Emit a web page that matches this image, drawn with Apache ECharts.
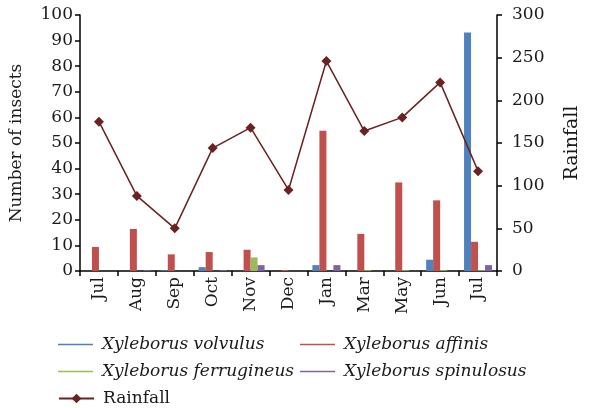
<!DOCTYPE html>
<html><head><meta charset="utf-8">
<script src="https://cdn.jsdelivr.net/npm/echarts@6/dist/echarts.min.js"></script>
<style>html,body{margin:0;padding:0;background:#fff}#c{width:590px;height:408px}</style>
</head><body><div id="c"></div>
<script>
const categories = ['Jul','Aug','Sep','Oct','Nov','Dec','Jan','Mar','May','Jun','Jul'];
const volvulus    = [0, 0, 0.3, 1.5, 0, 0, 2.3, 0, 0, 4.4, 93.2];
const affinis     = [9.4, 16.4, 6.5, 7.4, 8.3, 0.4, 54.8, 14.5, 34.6, 27.6, 11.4];
const ferrugineus = [0, 0, 0, 0, 5.3, 0, 0, 0.3, 0.3, 0.3, 0.3];
const spinulosus  = [0, 0.3, 0, 0.3, 2.3, 0, 2.3, 0, 0, 0, 2.3];
const rainfall    = [175, 88, 50, 144, 168, 95, 246, 164, 180, 221, 117];
const leftTicks = {min: 0, max: 100, interval: 10};
const rightTicks = {min: 0, max: 300, interval: 50};

const FONT = 'DejaVu Serif';
const TXT = '#1a1a1a';
const colors = {v: '#4F81BD', a: '#C0504D', f: '#9BBB59', s: '#8064A2', r: '#6A2121'};
const names = ['Xyleborus volvulus', 'Xyleborus affinis', 'Xyleborus ferrugineus', 'Xyleborus spinulosus', 'Rainfall'];

function legendItem(name, left, top, italic, isLine) {
  return {
    data: [name], left: left, top: top, orient: 'horizontal', padding: 0,
    itemWidth: 35, itemHeight: isLine ? 12 : 1.5,
    icon: isLine ? undefined : 'rect',
    selectedMode: false,
    textStyle: {fontFamily: FONT, fontSize: 17, color: TXT, fontStyle: italic ? 'italic' : 'normal', padding: [0, 0, 0, 4]}
  };
}

const axisLine = {show: true, lineStyle: {color: '#000', width: 1.5}};
const chart = echarts.init(document.getElementById('c'));
chart.setOption({
  animation: false,
  grid: {left: 79, right: 82, top: 15, bottom: 137, containLabel: false},
  legend: [
    legendItem(names[0], 58, 336, true, false),
    legendItem(names[1], 300, 336, true, false),
    legendItem(names[2], 58, 363, true, false),
    legendItem(names[3], 300, 363, true, false),
    legendItem(names[4], 58, 390, false, true)
  ],
  xAxis: {
    type: 'category', data: categories,
    axisLine: axisLine,
    axisTick: {show: true, length: 5, lineStyle: {color: '#000', width: 1.5}},
    axisLabel: {rotate: 90, margin: 6, fontFamily: FONT, fontSize: 17, color: TXT}
  },
  yAxis: [
    {type: 'value', min: leftTicks.min, max: leftTicks.max, interval: leftTicks.interval,
     name: 'Number of insects', nameLocation: 'middle', nameGap: 55, nameRotate: 90,
     nameTextStyle: {fontFamily: FONT, fontSize: 17, color: TXT},
     axisLine: axisLine, axisTick: {show: true, length: 5, lineStyle: {color: '#000', width: 1.5}},
     splitLine: {show: false},
     axisLabel: {margin: 7, fontFamily: FONT, fontSize: 17, color: TXT}},
    {type: 'value', position: 'right', min: rightTicks.min, max: rightTicks.max, interval: rightTicks.interval,
     name: 'Rainfall', nameLocation: 'middle', nameGap: 66, nameRotate: 90,
     nameTextStyle: {fontFamily: FONT, fontSize: 19, color: TXT},
     axisLine: axisLine, axisTick: {show: true, length: 5, lineStyle: {color: '#000', width: 1.5}},
     splitLine: {show: false},
     axisLabel: {margin: 15, fontFamily: FONT, fontSize: 17, color: TXT}}
  ],
  series: [
    {name: names[0], type: 'bar', data: volvulus, barWidth: 7, barGap: '0%', itemStyle: {color: colors.v}},
    {name: names[1], type: 'bar', data: affinis, barWidth: 7, barGap: '0%', itemStyle: {color: colors.a}},
    {name: names[2], type: 'bar', data: ferrugineus, barWidth: 7, barGap: '0%', itemStyle: {color: colors.f}},
    {name: names[3], type: 'bar', data: spinulosus, barWidth: 7, barGap: '0%', itemStyle: {color: colors.s}},
    {name: names[4], type: 'line', yAxisIndex: 1, data: rainfall, symbol: 'diamond', symbolSize: 10,
     itemStyle: {color: colors.r}, lineStyle: {color: colors.r, width: 1.5}}
  ]
});
</script></body></html>
